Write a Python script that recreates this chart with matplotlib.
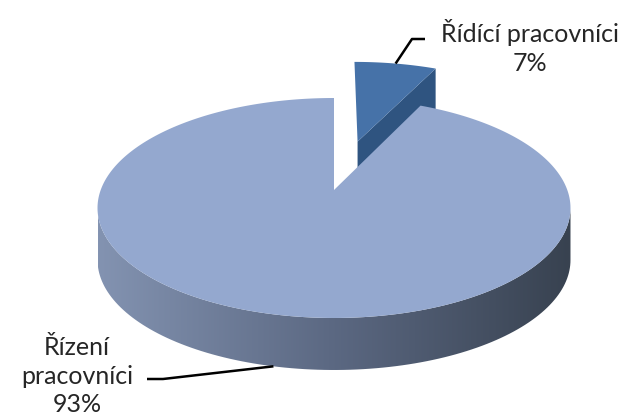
import numpy as np
import matplotlib.pyplot as plt
from matplotlib.patches import Polygon
from matplotlib.colors import LinearSegmentedColormap

labels = ['Řídící pracovníci', 'Řízení\npracovníci']
values = [7, 93]
explode = [0.5, 0.0]

top_colors = ['#4672a8', '#94a8cf']
cut_color = '#2f5480'
side_colors = ['#8393b1', '#5b6882', '#384250']

# pie geometry in pixels (perspective view of a flat disc)
CX, CY = 334, 190
A, B, K = 233.3, 107.05, 0.1636
DEPTH = 52


def project(u, v, drop=0.0):
    w = 1 + K * v
    return CX + A * u / w, CY - B * v / w + drop


def arc(t0, t1, off, n=120, drop=0.0):
    t = np.radians(np.linspace(t0, t1, n))
    return np.column_stack(project(off[0] + np.cos(t), off[1] + np.sin(t), drop))


fig = plt.figure(figsize=(6.36, 4.19), dpi=100)
ax = fig.add_axes([0, 0, 1, 1])
ax.set_xlim(0, 636)
ax.set_ylim(419, 0)
ax.axis('off')

# slice angles: start at 12 o'clock, go clockwise
total = sum(values)
starts, ends = [], []
a = 90.0
for v in values:
    starts.append(a)
    a -= v / total * 360
    ends.append(a)

offsets = []
for i in range(len(values)):
    mid = np.radians((starts[i] + ends[i]) / 2)
    offsets.append((explode[i] * np.cos(mid), explode[i] * np.sin(mid)))

# small exploded slice: radial cut face, then top
off = offsets[0]
c = np.array(project(off[0], off[1]))
e = np.radians(ends[0])
p = np.array(project(off[0] + np.cos(e), off[1] + np.sin(e)))
cut = [c, p, p + [0, DEPTH], c + [0, DEPTH]]
ax.add_patch(Polygon(cut, closed=True, facecolor=cut_color, edgecolor='none'))
top0 = np.vstack([[c], arc(starts[0], ends[0], off)])
ax.add_patch(Polygon(top0, closed=True, facecolor=top_colors[0], edgecolor='none'))

# big slice: front side with gradient, then top
off = offsets[1]
lo, hi = 180 + np.degrees(np.arcsin(K)), 360 - np.degrees(np.arcsin(K))
upper = arc(lo, hi, off)
lower = arc(hi, lo, off, drop=DEPTH)
side = np.vstack([upper, lower])
side_patch = Polygon(side, closed=True, facecolor='none', edgecolor='none')
ax.add_patch(side_patch)
cmap = LinearSegmentedColormap.from_list('side', side_colors)
grad = np.linspace(0, 1, 256).reshape(1, -1)
img = ax.imshow(grad, cmap=cmap, aspect='auto', interpolation='bilinear',
                extent=[side[:, 0].min(), side[:, 0].max(), side[:, 1].max(), side[:, 1].min()],
                zorder=1)
img.set_clip_path(side_patch)

c = np.array(project(off[0], off[1]))
top1 = np.vstack([[c], arc(starts[1], ends[1], off, n=400)])
ax.add_patch(Polygon(top1, closed=True, facecolor=top_colors[1], edgecolor='none', zorder=2))

# labels with leader lines
font = dict(family=['Lato', 'DejaVu Sans'], fontsize=18, color='#262626', ha='center', va='center',
            linespacing=1.3)

mid0 = np.radians((starts[0] + ends[0]) / 2)
anchor0 = project(offsets[0][0] + np.cos(mid0), offsets[0][1] + np.sin(mid0))
ax.plot([anchor0[0], 412, 425], [anchor0[1], 39, 39], color='black', lw=1.8, zorder=3,
        solid_capstyle='butt')
ax.text(530, 47, f'{labels[0]}\n{values[0]}%', zorder=4, **font)

mid1 = np.radians((starts[1] + ends[1]) / 2)
anchor1 = project(offsets[1][0] + np.cos(mid1), offsets[1][1] + np.sin(mid1), DEPTH)
ax.plot([anchor1[0], 163, 147], [anchor1[1], 379, 379], color='black', lw=1.8, zorder=3,
        solid_capstyle='butt')
ax.text(77, 376, f'{labels[1]}\n{values[1]}%', zorder=4, **font)

fig.savefig('out.png', dpi=100)
